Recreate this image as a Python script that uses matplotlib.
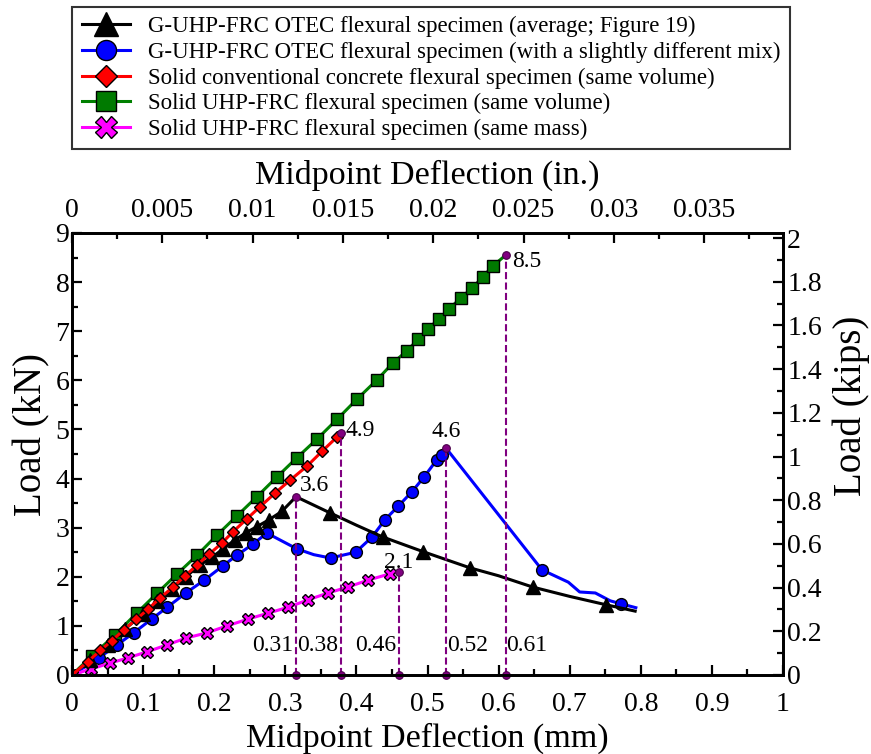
import numpy as np
import matplotlib.pyplot as plt
from matplotlib.ticker import MultipleLocator

plt.rcParams['font.family'] = ['Liberation Serif', 'DejaVu Serif']

# Data (deflection in mm, load in kN)
black_x = [0, 0.025, 0.05, 0.075, 0.10, 0.12, 0.14, 0.16, 0.18, 0.197, 0.212, 0.229, 0.245,
           0.260, 0.277, 0.295, 0.315, 0.363, 0.40, 0.437, 0.494, 0.56, 0.60, 0.648, 0.70, 0.751, 0.792]
black_y = [0, 0.30, 0.62, 0.94, 1.25, 1.50, 1.75, 2.00, 2.24, 2.40, 2.56, 2.75, 2.90,
           3.02, 3.16, 3.33, 3.63, 3.30, 3.05, 2.81, 2.51, 2.18, 2.02, 1.79, 1.60, 1.43, 1.30]
black_marks = [0, 1, 2, 3, 4, 5, 6, 7, 8, 9, 10, 11, 12, 13, 14, 15, 17, 19, 20, 21, 23, 25]

blue_x = [0, 0.038, 0.063, 0.087, 0.112, 0.134, 0.160, 0.186, 0.212, 0.232, 0.255, 0.274,
          0.316, 0.340, 0.364, 0.375, 0.399, 0.422, 0.440, 0.459, 0.478, 0.495, 0.513, 0.520,
          0.526, 0.661, 0.698, 0.714, 0.736, 0.757, 0.772, 0.793]
blue_y = [0, 0.35, 0.61, 0.86, 1.14, 1.38, 1.67, 1.93, 2.22, 2.44, 2.67, 2.89,
          2.57, 2.45, 2.38, 2.42, 2.50, 2.81, 3.16, 3.44, 3.73, 4.03, 4.38, 4.48,
          4.62, 2.14, 1.89, 1.69, 1.67, 1.51, 1.45, 1.37]
blue_marks = [0, 1, 2, 3, 4, 5, 6, 7, 8, 9, 10, 11, 12, 14, 16, 17, 18, 19, 20, 21, 22, 23, 25, 30]

red_x = [0, 0.022, 0.040, 0.056, 0.073, 0.090, 0.107, 0.124, 0.142, 0.159, 0.176, 0.193,
         0.211, 0.226, 0.246, 0.264, 0.286, 0.307, 0.331, 0.352, 0.373, 0.378]
red_y = [0, 0.27, 0.50, 0.70, 0.92, 1.13, 1.34, 1.57, 1.79, 2.02, 2.24, 2.46,
         2.69, 2.91, 3.18, 3.42, 3.71, 3.97, 4.26, 4.56, 4.85, 4.93]

green_x = [0, 0.028, 0.060, 0.091, 0.120, 0.148, 0.176, 0.204, 0.232, 0.260, 0.288, 0.316,
           0.345, 0.373, 0.401, 0.429, 0.451, 0.471, 0.487, 0.501, 0.516, 0.530, 0.547,
           0.563, 0.578, 0.592, 0.61]
green_y = [0, 0.39, 0.81, 1.26, 1.67, 2.06, 2.44, 2.85, 3.24, 3.63, 4.03, 4.42,
           4.81, 5.21, 5.62, 6.01, 6.35, 6.60, 6.84, 7.05, 7.25, 7.45, 7.68,
           7.88, 8.11, 8.33, 8.55]

mag_x = [0, 0.026, 0.053, 0.079, 0.105, 0.133, 0.160, 0.190, 0.218, 0.248, 0.276, 0.304,
         0.332, 0.360, 0.388, 0.416, 0.447, 0.46]
mag_y = [0, 0.12, 0.24, 0.35, 0.47, 0.61, 0.75, 0.86, 1.00, 1.14, 1.26, 1.38,
         1.53, 1.67, 1.79, 1.93, 2.06, 2.10]

labels = ['G-UHP-FRC OTEC flexural specimen (average; Figure 19)',
          'G-UHP-FRC OTEC flexural specimen (with a slightly different mix)',
          'Solid conventional concrete flexural specimen (same volume)',
          'Solid UHP-FRC flexural specimen (same volume)',
          'Solid UHP-FRC flexural specimen (same mass)']

# Peak loads marked on the chart, with their printed labels
peak_x = [0.315, 0.378, 0.46, 0.526, 0.61]
peak_y = [3.63, 4.93, 2.10, 4.62, 8.55]
peak_txt = ['3.6', '4.9', '2.1', '4.6', '8.5']
defl_txt = ['0.31', '0.38', '0.46', '0.52', '0.61']

KN_PER_KIP = 4.448
MM_PER_IN = 25.4

dpi = 100
fig = plt.figure(figsize=(871 / dpi, 754 / dpi), dpi=dpi)
ax = fig.add_axes([0.0827, 0.1048, 0.8163, 0.5862])

lw = 2.2
mew = 1.0
h1, = ax.plot(black_x, black_y, color='black', lw=lw, marker='^', ms=10, mfc='black',
              mec='black', mew=mew, markevery=black_marks, label=labels[0], zorder=4)
h2, = ax.plot(blue_x, blue_y, color='#0000ff', lw=lw, marker='o', ms=8.5, mfc='#0000ff',
              mec='black', mew=mew, markevery=blue_marks, label=labels[1], zorder=3)
h3, = ax.plot(red_x, red_y, color='#ff0000', lw=lw, marker='D', ms=6.5, mfc='#ff0000',
              mec='black', mew=mew, markevery=slice(1, -1), label=labels[2], zorder=5)
h4, = ax.plot(green_x, green_y, color='#008000', lw=lw, marker='s', ms=8.5, mfc='#007a00',
              mec='black', mew=mew, markevery=slice(1, -1), label=labels[3], zorder=2)
h5, = ax.plot(mag_x, mag_y, color='#ff00ff', lw=lw, marker='X', ms=9, mfc='#ff00ff',
              mec='black', mew=mew, markevery=slice(0, -1), label=labels[4], zorder=3)

# Peak markers with dashed drop lines
purple = '#800080'
for px, py in zip(peak_x, peak_y):
    ax.plot([px, px], [0, py], color=purple, lw=1.5, ls=(0, (3.4, 1.6)), zorder=6)
    ax.plot([px, px], [0, py], ls='none', marker='o', ms=5.5, mfc=purple, mec='#4a004a',
            mew=0.8, zorder=7, clip_on=False)

fs_ann = 17
ax.text(peak_x[0] + 0.006, peak_y[0] + 0.22, peak_txt[0], fontsize=fs_ann, ha='left', va='center')
ax.text(peak_x[1] + 0.006, peak_y[1] + 0.05, peak_txt[1], fontsize=fs_ann, ha='left', va='center')
ax.text(peak_x[2], peak_y[2] + 0.20, peak_txt[2], fontsize=fs_ann, ha='center', va='center')
ax.text(peak_x[3], peak_y[3] + 0.33, peak_txt[3], fontsize=fs_ann, ha='center', va='center')
ax.text(peak_x[4] + 0.009, peak_y[4] - 0.14, peak_txt[4], fontsize=fs_ann, ha='left', va='center')

# Deflection values at the bottom
ha_list = ['right', 'right', 'right', 'left', 'left']
for px, txt, ha in zip(peak_x, defl_txt, ha_list):
    off = -0.004 if ha == 'right' else 0.001
    ax.text(px + off, 0.6, txt, fontsize=fs_ann, ha=ha, va='center')

ax.set_xlim(0, 1)
ax.set_ylim(0, 9)
ax.xaxis.set_minor_locator(MultipleLocator(0.05))
ax.yaxis.set_major_locator(MultipleLocator(1))
ax.yaxis.set_minor_locator(MultipleLocator(0.5))
ax.set_xticks(np.arange(0, 1.01, 0.1))
ax.set_xticklabels(['0', '0.1', '0.2', '0.3', '0.4', '0.5', '0.6', '0.7', '0.8', '0.9', '1'])
ax.set_xlabel('Midpoint Deflection (mm)', fontsize=24.5, labelpad=4)
ax.set_ylabel('Load (kN)', fontsize=28)
ax.yaxis.set_label_coords(-0.03, 0.543)

# Secondary axes in US units
ax_top = ax.twiny()
ax_top.set_xlim(0, 1 / MM_PER_IN)
ax_top.xaxis.set_minor_locator(MultipleLocator(0.0025))
ax_top.set_xticks(np.arange(0, 0.0351, 0.005))
ax_top.set_xticklabels(['0', '0.005', '0.01', '0.015', '0.02', '0.025', '0.03', '0.035'])
ax_top.set_xlabel('Midpoint Deflection (in.)', fontsize=24.5, labelpad=10.5)

ax_right = ax.twinx()
ax_right.set_ylim(0, 9 / KN_PER_KIP)
ax_right.yaxis.set_minor_locator(MultipleLocator(0.1))
ax_right.set_yticks(np.arange(0, 2.01, 0.2))
ax_right.set_yticklabels(['0', '0.2', '0.4', '0.6', '0.8', '1', '1.2', '1.4', '1.6', '1.8', '2'])
ax_right.set_ylabel('Load (kips)', fontsize=28)
ax_right.yaxis.set_label_coords(1.07, 0.609)

for a in (ax, ax_top, ax_right):
    for s in a.spines.values():
        s.set_linewidth(1.8)
    a.tick_params(which='major', direction='in', length=7, width=1.6, labelsize=20)
    a.tick_params(which='minor', direction='in', length=4.5, width=1.6)
ax.tick_params(axis='y', which='both', right=False, pad=2)
ax.tick_params(axis='x', which='both', top=False, pad=12.5)
ax_top.tick_params(axis='x', pad=7)
ax_right.tick_params(axis='y', pad=3)

leg = fig.legend(handles=[h1, h2, h3, h4, h5], loc='upper center',
                 bbox_to_anchor=(0.495, 0.991), fontsize=16.5, frameon=True,
                 fancybox=False, edgecolor='black', handlelength=2.1, numpoints=1,
                 handletextpad=0.8, labelspacing=0.2, markerscale=1.7,
                 borderpad=0.4, borderaxespad=0)
leg.get_frame().set_linewidth(1.5)
# one marker in the middle of each legend handle
for line in leg.get_lines():
    line.set_markevery([1])

plt.savefig('out.png', dpi=dpi)
